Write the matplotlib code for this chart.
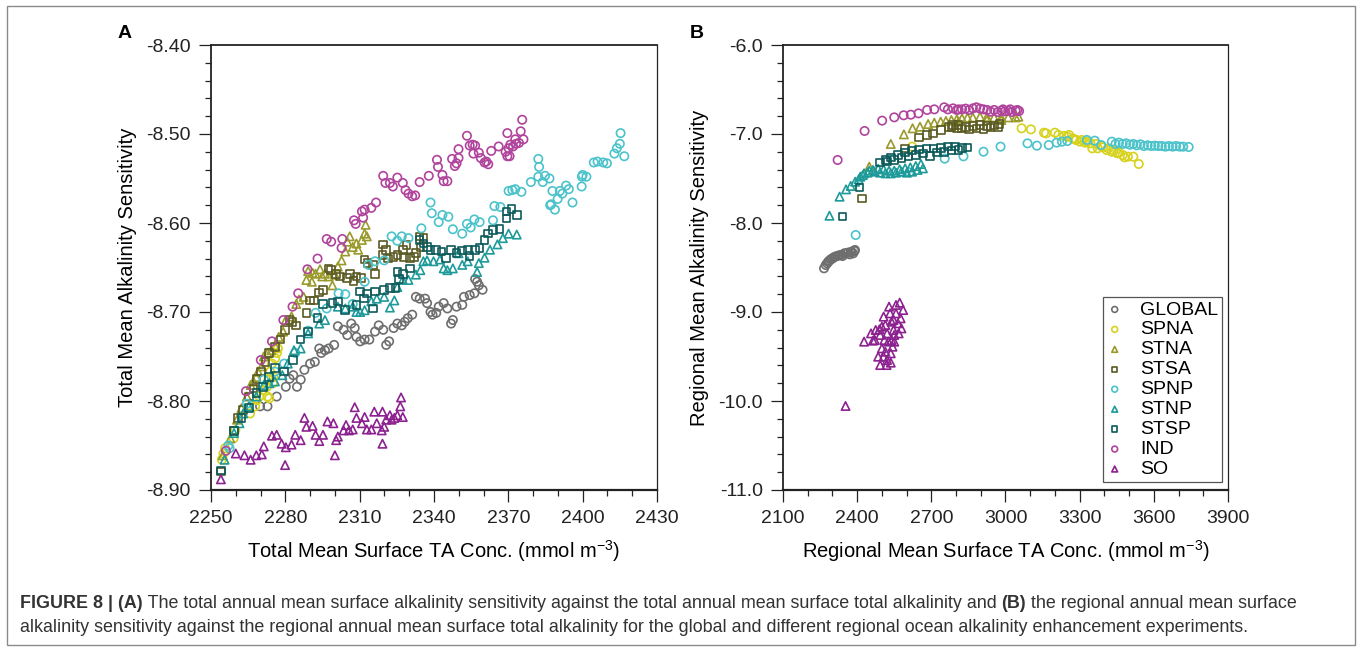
import numpy as np
import matplotlib
matplotlib.use("Agg")
import matplotlib.pyplot as plt
from matplotlib.patches import Rectangle
from matplotlib.ticker import MultipleLocator, FormatStrFormatter

plt.rcParams['font.family'] = ['Liberation Sans', 'DejaVu Sans']
plt.rcParams['mathtext.default'] = 'regular'
plt.rcParams['axes.unicode_minus'] = False

###############################################################################
# Series names, colours and markers (legend order)
names = ['GLOBAL', 'SPNA', 'STNA', 'STSA', 'SPNP', 'STNP', 'STSP', 'IND', 'SO']
colors = ['#6e6e6e', '#d6d21e', '#9a9a2c', '#5a5a24', '#4cc3cb',
          '#1e9a9a', '#0d5a5a', '#b0449c', '#8c2190']
markers = ['o', 'o', '^', 's', 'o', '^', 's', 'o', '^']

###############################################################################
# Panel A: total mean surface TA (x) vs total mean alkalinity sensitivity (y)
A_GLOBAL = [(2359.6, -8.675), (2358.1, -8.670), (2357.4, -8.666), (2356.6, -8.663),
            (2356.3, -8.679), (2354.4, -8.681), (2352.1, -8.683), (2351.4, -8.692),
            (2349.1, -8.694), (2347.6, -8.709), (2346.9, -8.713), (2345.4, -8.696),
            (2343.9, -8.690), (2341.9, -8.694), (2340.9, -8.701), (2339.4, -8.703),
            (2338.6, -8.700), (2337.2, -8.690), (2336.4, -8.685), (2334.2, -8.685),
            (2332.7, -8.683), (2331.2, -8.703), (2329.4, -8.707), (2328.2, -8.711),
            (2327.0, -8.715), (2325.2, -8.713), (2323.7, -8.718), (2321.9, -8.733),
            (2320.7, -8.737), (2319.5, -8.720), (2317.7, -8.715), (2316.2, -8.722),
            (2313.9, -8.731), (2312.0, -8.731), (2310.2, -8.733), (2308.7, -8.728),
            (2308.0, -8.718), (2306.6, -8.713), (2305.0, -8.726), (2303.5, -8.720),
            (2301.2, -8.716), (2299.7, -8.737), (2297.5, -8.741), (2296.0, -8.743),
            (2294.5, -8.746), (2293.7, -8.741), (2291.9, -8.756), (2290.0, -8.758),
            (2287.7, -8.765), (2286.2, -8.776), (2284.7, -8.784), (2283.2, -8.771),
            (2281.7, -8.775), (2280.2, -8.784), (2276.5, -8.795), (2272.8, -8.806),
            (2269.8, -8.806)]
A_SPNA = [(2276.6, -8.746), (2275.9, -8.752), (2274.6, -8.758), (2273.9, -8.767),
          (2275.2, -8.773), (2273.2, -8.776), (2272.6, -8.784), (2271.2, -8.788),
          (2269.6, -8.795), (2268.5, -8.799), (2267.8, -8.806), (2265.8, -8.814),
          (2259.8, -8.833), (2259.1, -8.842), (2255.7, -8.853), (2255.0, -8.859),
          (2254.4, -8.866), (2275.0, -8.780), (2277.0, -8.741), (2272.8, -8.795),
          (2273.5, -8.797)]
A_STNA = [(2312.4, -8.602), (2312.0, -8.612), (2312.9, -8.615), (2310.9, -8.619),
          (2306.0, -8.615), (2305.0, -8.621), (2307.2, -8.627), (2308.7, -8.623),
          (2309.4, -8.630), (2304.2, -8.632), (2302.7, -8.642), (2301.2, -8.649),
          (2300.0, -8.658), (2299.0, -8.670), (2297.5, -8.660), (2296.0, -8.657),
          (2294.9, -8.660), (2294.0, -8.652), (2292.2, -8.657), (2291.0, -8.656),
          (2289.2, -8.654), (2290.7, -8.666), (2288.5, -8.664), (2287.4, -8.683),
          (2285.5, -8.686), (2284.4, -8.691), (2282.5, -8.705), (2280.2, -8.709),
          (2279.1, -8.722), (2277.3, -8.728), (2275.8, -8.738), (2274.3, -8.743),
          (2272.8, -8.746), (2271.3, -8.750), (2270.5, -8.761), (2269.0, -8.767),
          (2268.3, -8.773), (2267.1, -8.778), (2266.0, -8.782), (2264.5, -8.795),
          (2262.3, -8.808), (2260.5, -8.821), (2257.8, -8.842), (2254.8, -8.861)]
A_STSA = [(2334.2, -8.615), (2335.7, -8.617), (2334.5, -8.627), (2332.7, -8.634),
          (2331.9, -8.638), (2330.4, -8.639), (2328.9, -8.625), (2327.4, -8.630),
          (2327.9, -8.638), (2325.2, -8.636), (2323.7, -8.638), (2321.4, -8.640),
          (2320.7, -8.630), (2319.5, -8.624), (2319.2, -8.636), (2316.2, -8.657),
          (2315.4, -8.647), (2313.2, -8.645), (2312.0, -8.641), (2310.5, -8.662),
          (2308.7, -8.660), (2307.5, -8.665), (2306.0, -8.657), (2305.0, -8.662),
          (2302.0, -8.660), (2300.5, -8.657), (2298.5, -8.653), (2297.5, -8.651),
          (2295.2, -8.675), (2293.7, -8.678), (2291.5, -8.687), (2290.0, -8.687),
          (2288.5, -8.701), (2284.4, -8.715), (2282.9, -8.711), (2281.7, -8.709),
          (2279.9, -8.720), (2278.0, -8.731), (2275.8, -8.739), (2273.5, -8.746),
          (2272.0, -8.756), (2270.1, -8.767), (2268.3, -8.775), (2267.1, -8.786),
          (2265.3, -8.795), (2263.0, -8.810), (2260.8, -8.819), (2259.3, -8.833),
          (2254.0, -8.879)]
A_SPNP = [(2415.3, -8.499), (2415.0, -8.511), (2413.8, -8.516), (2416.8, -8.525),
          (2412.8, -8.522), (2409.8, -8.533), (2408.3, -8.532), (2406.0, -8.531),
          (2404.5, -8.532), (2401.5, -8.548), (2400.0, -8.546), (2399.7, -8.548),
          (2399.6, -8.559), (2395.9, -8.577), (2394.4, -8.562), (2393.3, -8.558),
          (2391.8, -8.567), (2390.8, -8.564), (2389.9, -8.573), (2388.8, -8.585),
          (2387.3, -8.579), (2386.9, -8.580), (2387.8, -8.564), (2386.6, -8.550),
          (2384.8, -8.547), (2383.9, -8.554), (2382.4, -8.537), (2382.1, -8.528),
          (2382.1, -8.548), (2379.1, -8.554), (2375.3, -8.565), (2372.8, -8.562),
          (2371.6, -8.563), (2370.1, -8.564), (2366.8, -8.582), (2364.4, -8.581),
          (2363.8, -8.597), (2358.4, -8.599), (2356.3, -8.596), (2354.8, -8.605),
          (2353.3, -8.601), (2351.4, -8.612), (2347.6, -8.607), (2345.8, -8.593),
          (2343.4, -8.591), (2341.9, -8.599), (2339.1, -8.589), (2338.6, -8.577),
          (2334.9, -8.606), (2329.7, -8.617), (2327.0, -8.615), (2325.2, -8.620),
          (2322.9, -8.615), (2319.9, -8.642), (2316.2, -8.643), (2313.5, -8.647),
          (2312.0, -8.666), (2304.2, -8.680), (2301.5, -8.679), (2307.2, -8.691),
          (2296.7, -8.696), (2292.2, -8.701), (2289.2, -8.721), (2284.0, -8.746),
          (2279.5, -8.758), (2275.8, -8.767), (2271.3, -8.776), (2264.5, -8.803),
          (2257.0, -8.850), (2257.5, -8.853)]
A_STNP = [(2373.4, -8.613), (2370.1, -8.612), (2367.8, -8.617), (2365.6, -8.624),
          (2362.6, -8.630), (2360.4, -8.639), (2358.1, -8.645), (2357.4, -8.655),
          (2353.6, -8.643), (2351.4, -8.647), (2349.9, -8.634), (2347.6, -8.651),
          (2345.4, -8.653), (2343.9, -8.651), (2342.4, -8.641), (2339.8, -8.643),
          (2337.2, -8.642), (2335.7, -8.643), (2334.5, -8.653), (2332.7, -8.658),
          (2329.7, -8.664), (2327.4, -8.664), (2325.2, -8.672), (2324.0, -8.687),
          (2322.2, -8.695), (2319.9, -8.683), (2316.9, -8.685), (2314.7, -8.688),
          (2312.0, -8.698), (2310.2, -8.700), (2308.7, -8.700), (2307.2, -8.694),
          (2304.2, -8.696), (2301.2, -8.694), (2296.0, -8.709), (2293.7, -8.713),
          (2289.2, -8.724), (2286.2, -8.741), (2283.5, -8.743), (2281.0, -8.758),
          (2278.8, -8.771), (2275.8, -8.778), (2273.5, -8.780), (2271.3, -8.782),
          (2268.3, -8.795), (2265.3, -8.806), (2263.0, -8.814), (2261.5, -8.825),
          (2259.3, -8.836), (2255.5, -8.866)]
A_STSP = [(2371.3, -8.584), (2373.4, -8.591), (2369.3, -8.587), (2369.3, -8.595),
          (2366.4, -8.607), (2363.8, -8.608), (2361.9, -8.612), (2360.4, -8.619),
          (2358.4, -8.628), (2356.6, -8.630), (2354.4, -8.637), (2353.6, -8.630),
          (2351.4, -8.631), (2349.1, -8.634), (2346.9, -8.630), (2344.9, -8.639),
          (2343.1, -8.632), (2340.9, -8.630), (2338.6, -8.630), (2337.2, -8.627),
          (2335.7, -8.623), (2334.2, -8.619), (2330.4, -8.651), (2327.4, -8.657),
          (2325.9, -8.663), (2325.2, -8.655), (2324.4, -8.673), (2322.2, -8.673),
          (2319.9, -8.675), (2316.2, -8.677), (2315.4, -8.696), (2312.9, -8.679),
          (2311.7, -8.685), (2310.2, -8.677), (2308.7, -8.692), (2304.2, -8.698),
          (2301.2, -8.688), (2299.0, -8.690), (2295.2, -8.691), (2293.0, -8.707),
          (2289.2, -8.722), (2286.2, -8.731), (2283.2, -8.754), (2279.5, -8.767),
          (2275.8, -8.763), (2273.5, -8.773), (2271.0, -8.784), (2268.3, -8.791),
          (2265.3, -8.808), (2262.3, -8.819), (2259.3, -8.834), (2254.0, -8.878)]
A_IND = [(2375.6, -8.484), (2369.6, -8.499), (2375.0, -8.497), (2376.1, -8.506),
         (2372.8, -8.506), (2370.8, -8.512), (2370.1, -8.516), (2371.9, -8.514),
         (2373.1, -8.511), (2374.3, -8.510), (2368.9, -8.520), (2369.6, -8.525),
         (2370.5, -8.525), (2366.1, -8.514), (2363.1, -8.519), (2361.1, -8.531),
         (2361.9, -8.534), (2360.4, -8.532), (2358.9, -8.527), (2358.1, -8.521),
         (2355.9, -8.522), (2356.6, -8.513), (2355.6, -8.512), (2354.4, -8.513),
         (2353.3, -8.502), (2349.9, -8.517), (2349.9, -8.527), (2349.1, -8.533),
         (2348.4, -8.536), (2347.3, -8.528), (2345.4, -8.553), (2343.9, -8.553),
         (2343.4, -8.546), (2341.6, -8.537), (2341.2, -8.529), (2337.9, -8.547),
         (2334.2, -8.554), (2332.4, -8.569), (2331.2, -8.570), (2329.7, -8.567),
         (2328.5, -8.563), (2327.4, -8.555), (2325.2, -8.549), (2323.4, -8.559),
         (2322.2, -8.555), (2320.4, -8.555), (2319.5, -8.547), (2316.6, -8.577),
         (2314.7, -8.583), (2312.0, -8.585), (2310.9, -8.587), (2311.4, -8.594),
         (2307.7, -8.597), (2308.4, -8.601), (2302.7, -8.628), (2303.0, -8.618),
         (2298.5, -8.621), (2296.7, -8.618), (2293.0, -8.640), (2288.9, -8.652),
         (2285.2, -8.679), (2282.9, -8.694), (2279.2, -8.709), (2274.6, -8.733),
         (2270.1, -8.754), (2264.1, -8.789), (2256.0, -8.856)]
A_SO = [(2326.7, -8.796), (2326.4, -8.806), (2327.4, -8.818), (2325.2, -8.816),
        (2324.0, -8.819), (2322.9, -8.821), (2322.2, -8.816), (2320.7, -8.821),
        (2319.9, -8.829), (2318.9, -8.833), (2319.2, -8.848), (2319.2, -8.812),
        (2316.9, -8.825), (2315.9, -8.812), (2314.7, -8.832), (2312.9, -8.832),
        (2312.0, -8.818), (2310.9, -8.825), (2308.7, -8.819), (2308.0, -8.807),
        (2307.2, -8.832), (2305.7, -8.833), (2304.5, -8.827), (2303.5, -8.833),
        (2301.2, -8.840), (2300.5, -8.844), (2300.0, -8.861), (2299.4, -8.825),
        (2297.0, -8.823), (2295.2, -8.838), (2293.7, -8.845), (2292.2, -8.838),
        (2291.0, -8.828), (2288.5, -8.829), (2287.7, -8.819), (2286.2, -8.844),
        (2284.0, -8.838), (2282.5, -8.849), (2280.2, -8.852), (2279.9, -8.872),
        (2278.5, -8.848), (2276.5, -8.838), (2274.6, -8.839), (2271.3, -8.851),
        (2270.5, -8.860), (2268.3, -8.861), (2266.0, -8.866), (2263.5, -8.861),
        (2260.0, -8.859), (2254.0, -8.888)]

###############################################################################
# Panel B: regional mean surface TA (x) vs regional mean alkalinity sensitivity (y)
B_GLOBAL = [(2266, -8.509), (2273, -8.472), (2279, -8.453), (2283, -8.434),
            (2288, -8.423), (2293, -8.408), (2299, -8.401), (2305, -8.386),
            (2312, -8.378), (2319, -8.371), (2327, -8.363), (2334, -8.360),
            (2341, -8.371), (2348, -8.341), (2355, -8.341), (2363, -8.333),
            (2370, -8.352), (2374, -8.330), (2377, -8.322), (2384, -8.341),
            (2389, -8.315), (2391, -8.303)]
B_SPNA = [(2622, -7.142), (3065, -6.936), (3103, -6.948), (3156, -6.985),
          (3164, -6.993), (3200, -6.985), (3214, -7.011), (3236, -7.022),
          (3257, -7.011), (3272, -7.049), (3286, -7.067), (3308, -7.067),
          (3329, -7.086), (3351, -7.161), (3373, -7.161), (3387, -7.135),
          (3409, -7.180), (3430, -7.199), (3452, -7.217), (3474, -7.236),
          (3495, -7.255), (3517, -7.255), (3481, -7.262), (3459, -7.210),
          (3438, -7.187), (3416, -7.161), (3394, -7.150), (3366, -7.112),
          (3344, -7.105), (3322, -7.097), (3301, -7.086), (3279, -7.060),
          (3250, -7.030), (3539, -7.337)]
B_STNA = [(2536, -7.112), (2589, -7.004), (2624, -6.936), (2654, -6.918),
          (2687, -6.888), (2712, -6.873), (2738, -6.861), (2759, -6.854),
          (2781, -6.843), (2803, -6.835), (2824, -6.824), (2846, -6.816),
          (2868, -6.813), (2897, -6.805), (2925, -6.809), (2954, -6.813),
          (2983, -6.816), (3011, -6.813), (3041, -6.813), (3052, -6.805),
          (2449, -7.367), (2925, -6.843), (2983, -6.843), (2810, -6.861)]
B_STSA = [(2420, -7.723), (2594, -7.161), (2651, -7.041), (2683, -7.011),
          (2706, -6.993), (2738, -6.955), (2770, -6.918), (2788, -6.899),
          (2810, -6.899), (2839, -6.918), (2868, -6.910), (2897, -6.899),
          (2925, -6.910), (2954, -6.903), (2976, -6.891), (2824, -6.936),
          (2853, -6.948), (2882, -6.936), (2911, -6.944), (2940, -6.925),
          (2969, -6.918), (2803, -6.936), (2781, -6.918)]
B_SPNP = [(2394, -8.135), (2612, -7.431), (2754, -7.277), (2830, -7.251),
          (2911, -7.199), (2980, -7.142), (3089, -7.105), (3127, -7.131),
          (3175, -7.124), (3207, -7.097), (3228, -7.086), (3250, -7.079),
          (3329, -7.067), (3361, -7.075), (3387, -7.124), (3430, -7.086),
          (3459, -7.097), (3488, -7.105), (3517, -7.112), (3546, -7.116),
          (3575, -7.127), (3604, -7.131), (3632, -7.135), (3661, -7.135),
          (3690, -7.135), (3719, -7.142), (3741, -7.146), (3445, -7.112),
          (3474, -7.112), (3503, -7.120), (3531, -7.127), (3560, -7.135),
          (3589, -7.135), (3618, -7.135), (3647, -7.142), (3676, -7.142),
          (3705, -7.142)]
B_STNP = [(2288, -7.918), (2329, -7.704), (2355, -7.622), (2374, -7.584),
          (2392, -7.536), (2406, -7.509), (2423, -7.461), (2442, -7.434),
          (2464, -7.404), (2485, -7.390), (2507, -7.397), (2529, -7.412),
          (2550, -7.412), (2572, -7.397), (2594, -7.386), (2615, -7.375),
          (2637, -7.360), (2658, -7.337), (2666, -7.386), (2644, -7.404),
          (2622, -7.423), (2601, -7.434), (2579, -7.423), (2557, -7.434),
          (2536, -7.442), (2514, -7.442), (2493, -7.434), (2471, -7.423),
          (2449, -7.412), (2428, -7.442), (2413, -7.479)]
B_STSP = [(2341, -7.929), (2409, -7.599), (2493, -7.322), (2514, -7.292),
          (2536, -7.262), (2565, -7.236), (2594, -7.210), (2622, -7.187),
          (2651, -7.172), (2680, -7.161), (2695, -7.247), (2709, -7.161),
          (2738, -7.154), (2767, -7.142), (2796, -7.142), (2824, -7.154),
          (2846, -7.150), (2810, -7.180), (2781, -7.187), (2752, -7.199),
          (2723, -7.210), (2666, -7.217), (2637, -7.236), (2608, -7.255),
          (2579, -7.273), (2550, -7.292), (2521, -7.311)]
B_IND = [(2321, -7.292), (2430, -6.966), (2501, -6.850), (2550, -6.813),
         (2588, -6.790), (2617, -6.783), (2648, -6.768), (2683, -6.730),
         (2712, -6.723), (2752, -6.700), (2767, -6.723), (2788, -6.712),
         (2810, -6.723), (2839, -6.715), (2868, -6.712), (2882, -6.700),
         (2911, -6.723), (2926, -6.730), (2954, -6.730), (2983, -6.738),
         (3011, -6.738), (3041, -6.738), (3055, -6.742), (2940, -6.749),
         (2969, -6.753), (2998, -6.745), (3026, -6.753), (3048, -6.730),
         (2803, -6.730), (2824, -6.723), (2853, -6.730), (2897, -6.715),
         (2990, -6.723), (3019, -6.723)]
B_SO = [(2353, -10.056), (2428, -9.333), (2464, -9.322), (2456, -9.240),
        (2475, -9.202), (2490, -9.195), (2485, -9.502), (2493, -9.596),
        (2519, -9.596), (2536, -9.569), (2529, -8.940), (2507, -9.052),
        (2557, -8.921), (2572, -8.895), (2586, -8.978), (2579, -9.184),
        (2547, -9.202), (2521, -9.240), (2510, -9.315), (2500, -9.408),
        (2514, -9.446), (2536, -9.464), (2543, -9.390), (2550, -9.333),
        (2565, -9.127), (2547, -9.090), (2533, -9.015), (2514, -9.146),
        (2500, -9.165), (2493, -9.258), (2507, -9.502), (2521, -9.539),
        (2471, -9.315), (2550, -9.258), (2568, -9.240), (2576, -9.071),
        (2557, -9.015), (2539, -9.109), (2526, -9.333), (2539, -9.315)]

panel_a = [A_GLOBAL, A_SPNA, A_STNA, A_STSA, A_SPNP, A_STNP, A_STSP, A_IND, A_SO]
panel_b = [B_GLOBAL, B_SPNA, B_STNA, B_STSA, B_SPNP, B_STNP, B_STSP, B_IND, B_SO]

###############################################################################
W, H = 1358, 650
fig = plt.figure(figsize=(W / 100, H / 100), dpi=100)


def px_axes(left, right, top, bottom):
    return fig.add_axes([left / W, 1 - bottom / H, (right - left) / W, (bottom - top) / H])


ax_a = px_axes(211, 657, 45, 490)
ax_b = px_axes(783, 1228, 45, 490)

for ax, series in [(ax_a, panel_a), (ax_b, panel_b)]:
    for i, pts in enumerate(series):
        xy = np.array(pts).T
        ax.scatter(xy[0], xy[1], s=36 if markers[i] != 's' else 30,
                   marker=markers[i], facecolors='none', edgecolors=colors[i],
                   linewidths=1.2, label=names[i], zorder=2 + i)

# Axes styling
ax_a.set_xlim(2250, 2430)
ax_a.set_ylim(-8.90, -8.40)
ax_a.xaxis.set_major_locator(MultipleLocator(30))
ax_a.xaxis.set_minor_locator(MultipleLocator(10))
ax_a.yaxis.set_major_locator(MultipleLocator(0.1))
ax_a.yaxis.set_minor_locator(MultipleLocator(0.02))
ax_a.yaxis.set_major_formatter(FormatStrFormatter('%.2f'))
ax_a.set_xlabel('Total Mean Surface TA Conc. (mmol m$^{-3}$)', fontsize=14.5, labelpad=8)
ax_a.set_ylabel('Total Mean Alkalinity Sensitivity', fontsize=14.5, labelpad=7)

ax_b.set_xlim(2100, 3900)
ax_b.set_ylim(-11.0, -6.0)
ax_b.xaxis.set_major_locator(MultipleLocator(300))
ax_b.xaxis.set_minor_locator(MultipleLocator(100))
ax_b.yaxis.set_major_locator(MultipleLocator(1.0))
ax_b.yaxis.set_minor_locator(MultipleLocator(0.2))
ax_b.yaxis.set_major_formatter(FormatStrFormatter('%.1f'))
ax_b.set_xlabel('Regional Mean Surface TA Conc. (mmol m$^{-3}$)', fontsize=14.5, labelpad=8)
ax_b.set_ylabel('Regional Mean Alkalinity Sensitivity', fontsize=14.5, labelpad=7)

for ax in [ax_a, ax_b]:
    ax.tick_params(which='major', direction='out', length=8.5, width=0.9,
                   labelsize=14, pad=6, colors='#222222')
    ax.tick_params(which='minor', direction='out', length=4, width=0.9,
                   colors='#222222')
    ax.spines['left'].set_linewidth(1.3)
    ax.spines['bottom'].set_linewidth(1.6)
    ax.spines['top'].set_linewidth(1.3)
    ax.spines['right'].set_linewidth(0.9)
    for sp in ax.spines.values():
        sp.set_color('#222222')

leg = ax_b.legend(loc='lower right', bbox_to_anchor=(0.9865, 0.018),
                  borderaxespad=0, fontsize=14, markerscale=0.7,
                  labelspacing=0.12, handletextpad=0.9, handlelength=0.8,
                  borderpad=0.2, fancybox=False, framealpha=1,
                  edgecolor='#555555')
leg.get_frame().set_linewidth(0.9)

fig.text(125 / W, 1 - 33 / H, 'A', fontsize=14, fontweight='bold', ha='center', va='center')
fig.text(697 / W, 1 - 33 / H, 'B', fontsize=14, fontweight='bold', ha='center', va='center')

# Outer frame
fig.patches.append(Rectangle((7 / W, 5 / H), 1348 / W, 639 / H, transform=fig.transFigure,
                             fill=False, edgecolor='#8a8a8a', linewidth=1.0))

###############################################################################
# Caption
line1 = [('FIGURE 8 | (A)', 'bold'),
         (' The total annual mean surface alkalinity sensitivity against the total annual '
          'mean surface total alkalinity and ', 'normal'),
         ('(B)', 'bold'),
         (' the regional annual mean surface', 'normal')]
line2 = [('alkalinity sensitivity against the regional annual mean surface total alkalinity '
          'for the global and different regional ocean alkalinity enhancement experiments.',
          'normal')]

renderer = fig.canvas.get_renderer()


def line_width(parts, size):
    total = 0
    for txt, wt in parts:
        t = fig.text(0, 0, txt, fontsize=size, fontweight=wt)
        total += t.get_window_extent(renderer).width
        t.remove()
    return total


cap_size = 10 * (1276 / line_width(line1, 10))


def put_line(parts, x, y):
    for txt, wt in parts:
        t = fig.text(x / W, 1 - y / H, txt, fontsize=cap_size, fontweight=wt,
                     color='#333333', va='center', ha='left')
        x += t.get_window_extent(renderer).width


put_line(line1, 20, 604)
put_line(line2, 20, 628)

fig.savefig('out.png', dpi=100)
